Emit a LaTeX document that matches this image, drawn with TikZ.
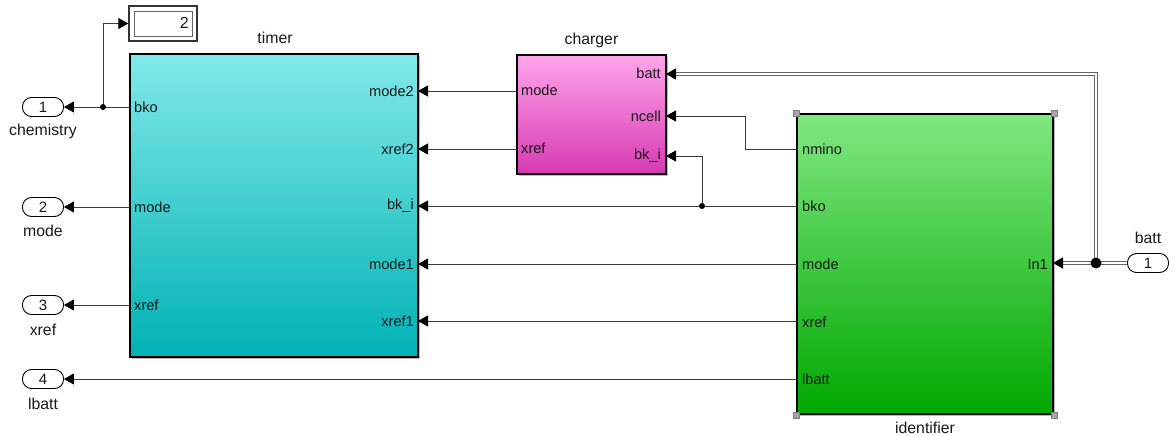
\documentclass[tikz,border=0pt]{standalone}
\usepackage{fontspec}
\setmainfont{Liberation Sans}
\usetikzlibrary{arrows.meta,shadows}

\definecolor{txt}{RGB}{25,25,25}
\definecolor{wire}{RGB}{60,60,60}
\definecolor{buswire}{RGB}{100,100,100}
\definecolor{cyanT}{RGB}{130,233,233}
\definecolor{cyanB}{RGB}{0,178,180}
\definecolor{pinkT}{RGB}{255,165,236}
\definecolor{pinkB}{RGB}{214,58,176}
\definecolor{greenT}{RGB}{128,232,128}
\definecolor{greenB}{RGB}{0,168,0}
\definecolor{handle}{RGB}{165,165,165}

\tikzset{
  lbl/.style={font=\fontsize{14.6}{17}\selectfont, text=txt, inner sep=0pt},
  title/.style={font=\fontsize{15.8}{18}\selectfont, text=txt, inner sep=0pt},
  block/.style={draw=black, line width=2pt, inner sep=0pt,
    drop shadow={shadow xshift=2pt, shadow yshift=-2pt, fill=gray!55, opacity=1}},
  portbox/.style={draw=black, line width=0.9pt, rounded corners=9pt, fill=white,
    minimum width=41pt, minimum height=19pt, inner sep=0pt,
    font=\fontsize{15}{17}\selectfont, text=txt},
  sig/.style={draw=wire, line width=0.9pt,
    -{Triangle[length=10pt,width=11pt,color=black]}},
  bus/.style={draw=buswire, line width=1.4pt, double=white, double distance=1.3pt},
  busarrow/.style={bus, -{Triangle[length=10pt,width=11pt,color=black]}},
  dot/.style={circle, fill=black, inner sep=0pt, minimum size=#1},
  corner/.style={draw=gray, fill=handle, line width=0.4pt, minimum size=6pt, inner sep=0pt},
}

\begin{document}
\begin{tikzpicture}[x=1pt,y=-1pt]
\useasboundingbox[fill=white] (0,0) rectangle (1173,436);

% ---------- blocks ----------
\node[block, top color=cyanT, bottom color=cyanB,
      minimum width=288pt, minimum height=303pt] (timer) at (274,205.5) {};
\node[title] (timerT) at (275,38) {timer};

\node[block, top color=pinkT, bottom color=pinkB,
      minimum width=149pt, minimum height=119pt] (charger) at (591.5,114.5) {};
\node[title] (chargerT) at (591.5,40) {charger};

\node[block, top color=greenT, bottom color=greenB,
      minimum width=256pt, minimum height=300pt] (ident) at (925,264) {};
\node[title] (identT) at (925,428) {identifier};
\foreach \c in {north west,north east,south west,south east}
  \node[corner] at (ident.\c) {};

% display block
\node[draw=black!80, line width=1.4pt, fill=white, minimum width=68pt, minimum height=35pt,
      inner sep=0pt, drop shadow={shadow xshift=1.2pt, shadow yshift=-1.2pt, fill=gray!60, opacity=1}]
      (disp) at (163,23.5) {};
\node[draw=gray!80!black, line width=0.8pt, fill=white, minimum width=58pt, minimum height=25pt,
      inner sep=0pt] (dispin) at (163,23.5) {};
\node[lbl, anchor=east, font=\fontsize{16}{18}\selectfont] (dispval) at (189,23) {2};

% ---------- port coordinates ----------
% timer
\coordinate (t-bko)   at (130,107);
\coordinate (t-mode)  at (130,207);
\coordinate (t-xref)  at (130,305);
\coordinate (t-mode2) at (418,91);
\coordinate (t-xref2) at (418,149);
\coordinate (t-bki)   at (418,206);
\coordinate (t-mode1) at (418,264);
\coordinate (t-xref1) at (418,321);
% charger
\coordinate (c-mode)  at (517,91);
\coordinate (c-xref)  at (517,149);
\coordinate (c-batt)  at (666,74);
\coordinate (c-ncell) at (666,116);
\coordinate (c-bki)   at (666,156);
% identifier
\coordinate (i-nmino) at (797,149);
\coordinate (i-bko)   at (797,206);
\coordinate (i-mode)  at (797,264);
\coordinate (i-xref)  at (797,321);
\coordinate (i-lbatt) at (797,379);
\coordinate (i-in1)   at (1053,263);

% ---------- port labels ----------
\node[lbl, anchor=west] (lt1) at (134,107) {bko};
\node[lbl, anchor=west] (lt2) at (134,207) {mode};
\node[lbl, anchor=west] (lt3) at (134,305) {xref};
\node[lbl, anchor=east] (lt4) at (414,91)  {mode2};
\node[lbl, anchor=east] (lt5) at (414,149) {xref2};
\node[lbl, anchor=east] (lt6) at (414,206) {bk\_i};
\node[lbl, anchor=east] (lt7) at (414,264) {mode1};
\node[lbl, anchor=east] (lt8) at (414,321) {xref1};

\node[lbl, anchor=west] (lc1) at (521,90)  {mode};
\node[lbl, anchor=west] (lc2) at (521,148) {xref};
\node[lbl, anchor=east] (lc3) at (661,73)  {batt};
\node[lbl, anchor=east] (lc4) at (661,116) {ncell};
\node[lbl, anchor=east] (lc5) at (661,156) {bk\_i};

\node[lbl, anchor=west] (li1) at (802,149) {nmino};
\node[lbl, anchor=west] (li2) at (802,206) {bko};
\node[lbl, anchor=west] (li3) at (802,264) {mode};
\node[lbl, anchor=west] (li4) at (802,322) {xref};
\node[lbl, anchor=west] (li5) at (802,379) {lbatt};
\node[lbl, anchor=east] (li6) at (1048,264) {In1};

% ---------- outports / inport ----------
\node[portbox] (o1) at (43,107) {1};
\node[title] (o1T) at (43,131) {chemistry};
\node[portbox] (o2) at (43,207) {2};
\node[title] (o2T) at (43,231) {mode};
\node[portbox] (o3) at (43,305) {3};
\node[title] (o3T) at (43,330) {xref};
\node[portbox] (o4) at (43,379) {4};
\node[title] (o4T) at (43,404) {lbatt};

\node[portbox] (in1) at (1148,263) {1};
\node[title] (in1T) at (1148,238) {batt};

% ---------- junctions ----------
\coordinate (jc) at (103,107);
\coordinate (jk) at (702,206);
\coordinate (jb) at (1096,263);
\coordinate (bend) at (745,149);

% ---------- signal lines ----------
\draw[sig] (t-bko) -- (o1.east);
\draw[sig] (jc) |- (disp.west);
\draw[sig] (t-mode) -- (o2.east);
\draw[sig] (t-xref) -- (o3.east);
\draw[sig] (i-lbatt) -- (o4.east);

\draw[sig] (c-mode) -- (t-mode2);
\draw[sig] (c-xref) -- (t-xref2);

\draw[sig] (i-nmino) -- (bend) |- (c-ncell);
\draw[sig] (i-bko) -- (t-bki);
\draw[sig] (jk) |- (c-bki);
\draw[sig] (i-mode) -- (t-mode1);
\draw[sig] (i-xref) -- (t-xref1);

% ---------- bus lines ----------
\draw[bus] (in1.west) -- (jb);
\draw[busarrow] (jb) -- (i-in1);
\draw[busarrow] (jb) |- (c-batt);

% ---------- junction dots ----------
\node[dot=6pt] (dc) at (jc) {};
\node[dot=6pt] (dk) at (jk) {};
\node[dot=11pt] (db) at (jb) {};
\end{tikzpicture}
\end{document}
